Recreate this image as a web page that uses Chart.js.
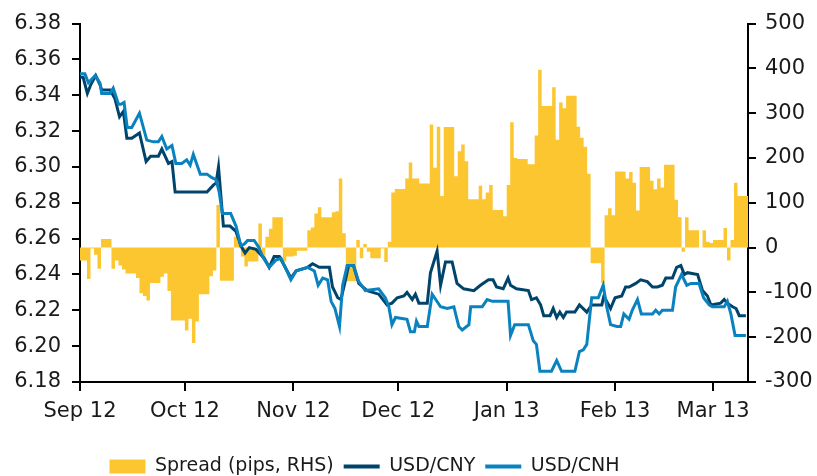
<!DOCTYPE html>
<html lang="en">
<head>
<meta charset="UTF-8">
<title>USD/CNY, USD/CNH and spread</title>
<script src="https://cdn.jsdelivr.net/npm/chart.js"></script>
<style>
  html, body { margin: 0; padding: 0; background: #fff; }
</style>
</head>
<body>
<canvas id="chart" width="817" height="476"></canvas>
<script>
// x = days counted from 1 Sep 2012
const monthDays = [0, 30, 61, 91, 122, 153, 181];
const monthLabels = ['Sep 12', 'Oct 12', 'Nov 12', 'Dec 12', 'Jan 13', 'Feb 13', 'Mar 13'];

const cnyDays = [0, 0.9, 2.1, 3.1, 4.5, 5.7, 6.2, 8.6, 10.0, 11.3,
  12.4, 13.4, 14.8, 17.0, 18.9, 20.2, 22.4, 23.4, 25.3, 26.3,
  27.2, 36.3, 38.2, 38.9, 39.6, 41.0, 42.9, 44.6, 46.0, 47.2,
  48.4, 50.3, 52.7, 54.1, 55.5, 57.0, 58.4, 60.3, 61.8, 65.1,
  66.5, 68.4, 71.3, 72.2, 73.7, 74.6, 75.8, 76.8, 78.2, 79.7,
  82.1, 85.4, 87.8, 89.2, 90.7, 92.6, 93.5, 95.0, 95.9, 96.9,
  99.3, 100.2, 102.1, 103.1, 104.5, 106.4, 107.8, 109.7, 112.6, 114.5,
  116.8, 118.1, 119.1, 121.0, 122.4, 123.1, 124.8, 128.2, 129.1, 130.5,
  131.7, 132.6, 134.4, 135.3, 136.3, 137.2, 138.2, 139.1, 141.5, 142.8,
  144.9, 146.3, 149.2, 149.8, 150.6, 151.7, 153.0, 154.9, 156.0, 157.0,
  158.9, 160.3, 162.2, 163.7, 165.1, 166.5, 167.5, 169.4, 170.6, 171.8,
  172.8, 173.7, 176.6, 178.0, 179.4, 180.4, 183.2, 184.2, 185.1, 186.6,
  187.6, 188.5, 190.4];
const cnyValues = [6.350, 6.350, 6.341, 6.346, 6.351, 6.346, 6.343, 6.343, 6.338, 6.328,
  6.331, 6.316, 6.316, 6.319, 6.303, 6.306, 6.306, 6.310, 6.302, 6.303,
  6.286, 6.286, 6.290, 6.291, 6.300, 6.267, 6.267, 6.264, 6.256, 6.252,
  6.255, 6.254, 6.249, 6.244, 6.250, 6.250, 6.245, 6.238, 6.242, 6.244,
  6.246, 6.244, 6.244, 6.233, 6.227, 6.226, 6.236, 6.245, 6.245, 6.235,
  6.231, 6.229, 6.223, 6.224, 6.227, 6.228, 6.230, 6.226, 6.229, 6.224,
  6.224, 6.241, 6.253, 6.234, 6.247, 6.247, 6.235, 6.232, 6.231, 6.234,
  6.237, 6.237, 6.233, 6.232, 6.238, 6.234, 6.232, 6.231, 6.226, 6.227,
  6.223, 6.217, 6.217, 6.221, 6.216, 6.219, 6.216, 6.219, 6.219, 6.223,
  6.219, 6.223, 6.223, 6.228, 6.225, 6.221, 6.227, 6.228, 6.233, 6.233,
  6.235, 6.237, 6.236, 6.233, 6.233, 6.234, 6.238, 6.238, 6.244, 6.245,
  6.240, 6.241, 6.240, 6.231, 6.228, 6.223, 6.224, 6.226, 6.224, 6.222,
  6.221, 6.217, 6.217];

const cnhDays = [0, 1.4, 2.4, 4.3, 5.7, 6.2, 8.6, 9.5, 11.0, 11.7,
  12.6, 13.5, 14.8, 17.0, 19.1, 21.0, 22.4, 23.4, 24.8, 26.3,
  27.4, 29.1, 30.5, 31.5, 32.4, 34.4, 36.3, 37.7, 38.9, 39.8,
  40.7, 43.1, 44.6, 46.0, 47.0, 47.9, 49.8, 51.2, 52.2, 54.1,
  56.0, 57.5, 58.9, 60.3, 61.8, 65.1, 67.0, 68.1, 69.4, 70.8,
  71.8, 72.9, 74.2, 75.1, 76.4, 78.2, 79.7, 81.6, 85.4, 87.3,
  88.3, 89.2, 90.2, 93.5, 94.5, 95.6, 96.2, 96.9, 99.3, 100.7,
  103.1, 105.0, 106.9, 108.3, 109.3, 111.2, 111.7, 115.0, 116.4, 117.9,
  119.1, 122.4, 123.1, 124.3, 128.2, 129.6, 130.5, 131.5, 134.8, 136.3,
  137.7, 141.5, 142.8, 143.9, 144.9, 146.3, 148.2, 149.6, 150.6, 151.7,
  153.5, 154.6, 155.5, 157.0, 157.9, 159.4, 160.5, 163.7, 164.6, 165.6,
  166.5, 169.4, 170.3, 172.0, 173.5, 174.7, 177.0, 178.3, 179.9, 180.8,
  184.2, 185.1, 186.1, 187.3, 190.4];
const cnhValues = [6.352, 6.352, 6.347, 6.351, 6.347, 6.341, 6.341, 6.344, 6.335, 6.335,
  6.336, 6.322, 6.322, 6.330, 6.315, 6.314, 6.314, 6.317, 6.310, 6.312,
  6.302, 6.302, 6.304, 6.301, 6.307, 6.296, 6.296, 6.294, 6.293, 6.286,
  6.274, 6.274, 6.267, 6.256, 6.257, 6.259, 6.259, 6.255, 6.250, 6.244,
  6.248, 6.249, 6.243, 6.237, 6.242, 6.244, 6.242, 6.234, 6.238, 6.237,
  6.225, 6.221, 6.211, 6.234, 6.245, 6.245, 6.236, 6.231, 6.232, 6.227,
  6.222, 6.212, 6.216, 6.215, 6.208, 6.208, 6.214, 6.211, 6.211, 6.229,
  6.222, 6.221, 6.222, 6.211, 6.209, 6.212, 6.222, 6.222, 6.226, 6.225,
  6.225, 6.225, 6.206, 6.212, 6.212, 6.203, 6.201, 6.186, 6.186, 6.192,
  6.186, 6.186, 6.197, 6.198, 6.201, 6.227, 6.227, 6.234, 6.222, 6.212,
  6.211, 6.211, 6.218, 6.215, 6.220, 6.226, 6.218, 6.218, 6.220, 6.218,
  6.220, 6.220, 6.233, 6.240, 6.234, 6.235, 6.235, 6.227, 6.223, 6.222,
  6.222, 6.225, 6.218, 6.206, 6.206];

// spread in pips: each value holds from its day until the next one
const spreadDays = [0, 2, 3, 4, 5, 6, 9, 10, 11, 12,
  13, 16, 17, 18, 19, 20, 23, 24, 25, 26,
  30, 31, 32, 33, 34, 37, 38, 39, 40, 44,
  45, 46, 47, 48, 51, 52, 53, 54, 55, 58,
  59, 61, 62, 65, 66, 67, 68, 69, 72, 73,
  74, 75, 76, 79, 80, 81, 82, 83, 86, 87,
  88, 89, 90, 93, 94, 95, 97, 100, 101, 102,
  103, 104, 107, 108, 109, 110, 111, 114, 115, 116,
  117, 118, 121, 122, 123, 124, 125, 128, 130, 131,
  132, 135, 136, 137, 138, 139, 142, 143, 144, 145,
  146, 149, 150, 151, 152, 153, 156, 157, 158, 159,
  160, 163, 164, 165, 166, 167, 170, 171, 172, 173,
  174, 177, 178, 179, 180, 181, 184, 185, 186, 187,
  188, 191];
const spreadValues = [-29, -70, -2, -16, -47, 19, -47, -29, -40, -49,
  -58, -68, -102, -108, -118, -79, -65, -58, -97, -163,
  -185, -159, -213, -165, -104, -64, -51, 95, -74, 24,
  13, -20, -42, -31, 54, -24, 24, 42, 68, -31,
  -20, -18, -7, 39, 45, 76, 90, 68, 79, 81,
  154, 32, -75, 17, -24, 8, -9, -24, -2, -32,
  13, 123, 131, 154, 190, 154, 143, 275, 178, 270,
  115, 269, 159, 215, 230, 193, 108, 138, 108, 123,
  140, 84, 70, 140, 280, 200, 198, 186, 250, 397,
  316, 358, 241, 324, 311, 339, 270, 245, 225, 165,
  -35, -79, 72, 88, 72, 170, 154, 169, 145, 83,
  180, 149, 130, 154, 134, 185, 107, 68, -9, 68,
  39, 0, 39, 13, 10, 17, 44, -29, 17, 145,
  115, 115];

const toPoints = (days, values) => days.map((d, i) => ({ x: d, y: values[i] }));

const textColor = '#1a1a1a';
const tickFont = { family: 'DejaVu Sans', size: 21 };

// move the legend a little left and down, as in the original
const legendNudge = {
  id: 'legendNudge',
  afterLayout(chart) {
    const lg = chart.legend;
    lg.left -= 44;
    lg.right -= 44;
    lg.top += 10;
    lg.bottom += 10;
  }
};

new Chart(document.getElementById('chart'), {
  type: 'line',
  data: {
    datasets: [
      {
        label: 'Spread (pips, RHS)',
        data: toPoints(spreadDays, spreadValues),
        yAxisID: 'y1',
        stepped: true,
        fill: 'origin',
        backgroundColor: '#FCC630',
        borderColor: '#FCC630',
        borderWidth: 0,
        pointRadius: 0,
        order: 3
      },
      {
        label: 'USD/CNY',
        data: toPoints(cnyDays, cnyValues),
        yAxisID: 'y',
        borderColor: '#00446C',
        borderWidth: 3,
        pointRadius: 0,
        fill: false,
        order: 2
      },
      {
        label: 'USD/CNH',
        data: toPoints(cnhDays, cnhValues),
        yAxisID: 'y',
        borderColor: '#0A82BF',
        borderWidth: 3,
        pointRadius: 0,
        fill: false,
        order: 1
      }
    ]
  },
  options: {
    responsive: false,
    animation: false,
    layout: { padding: { top: 16, left: 0, right: 0, bottom: 0 } },
    plugins: {
      tooltip: { enabled: false },
      legend: {
        position: 'bottom',
        labels: {
          font: { family: 'DejaVu Sans', size: 19 },
          color: textColor,
          usePointStyle: true,
          pointStyleWidth: 36,
          boxHeight: 14,
          padding: 10,
          sort: (a, b) => a.datasetIndex - b.datasetIndex,
          generateLabels(chart) {
            const items = Chart.defaults.plugins.legend.labels.generateLabels(chart);
            items.forEach(it => {
              const ds = chart.data.datasets[it.datasetIndex];
              if (ds.fill) {
                it.pointStyle = 'rect';
                it.lineWidth = 0;
                it.fillStyle = ds.backgroundColor;
              } else {
                it.pointStyle = 'line';
                it.lineWidth = 4;
                it.strokeStyle = ds.borderColor;
              }
            });
            return items;
          }
        }
      }
    },
    scales: {
      x: {
        type: 'linear',
        min: 0,
        max: 191,
        afterBuildTicks: s => { s.ticks = monthDays.map(v => ({ value: v })); },
        afterFit: s => { s.height = 55; },
        ticks: {
          callback: v => monthLabels[monthDays.indexOf(v)],
          font: tickFont,
          color: textColor,
          padding: 8,
          maxRotation: 0,
          autoSkip: false
        },
        grid: { drawOnChartArea: false, tickLength: 9, color: '#000', lineWidth: 2 },
        border: { color: '#000', width: 2 }
      },
      y: {
        position: 'left',
        min: 6.18,
        max: 6.38,
        afterFit: s => { s.width = 80; },
        ticks: {
          stepSize: 0.02,
          callback: v => v.toFixed(2),
          font: tickFont,
          color: textColor,
          padding: 11
        },
        grid: { drawOnChartArea: false, tickLength: 8, color: '#000', lineWidth: 2 },
        border: { color: '#000', width: 2 }
      },
      y1: {
        position: 'right',
        min: -300,
        max: 500,
        afterFit: s => { s.width = 69; },
        ticks: {
          stepSize: 100,
          font: tickFont,
          color: textColor,
          padding: 9
        },
        grid: { drawOnChartArea: false, tickLength: 8, color: '#000', lineWidth: 2 },
        border: { color: '#000', width: 2 }
      }
    }
  },
  plugins: [legendNudge]
});
</script>
</body>
</html>
